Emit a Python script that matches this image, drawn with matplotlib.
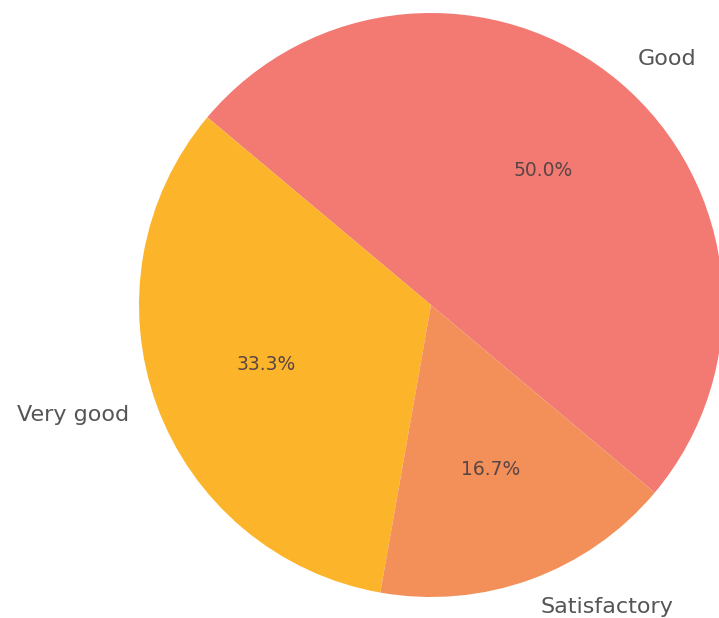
import matplotlib
matplotlib.use('Agg')
import matplotlib.pyplot as plt

labels = ['Good', 'Very good', 'Satisfactory']
shares = [3, 2, 1]
colors = ['#f27a73', '#fcb52b', '#f3905a']

fig = plt.figure(figsize=(7.19, 6.18), dpi=100)
ax = fig.add_axes([0, 0, 1, 1])

wedges, texts, autotexts = ax.pie(shares, labels=labels, colors=colors,
                                  autopct='%1.1f%%', startangle=-40,
                                  labeldistance=1.1, pctdistance=0.6,
                                  textprops={'color': '#555555', 'fontsize': 16})
for t in autotexts:
    t.set_fontsize(13.5)
    t.set_color('#5a4545')

# pie centre at (431, 305) px, radius ~292 px
r = 292.0
cx, cy = 431, 305
ax.set_xlim(-cx / r, (719 - cx) / r)
ax.set_ylim(-(618 - cy) / r, cy / r)
ax.set_aspect('auto')

fig.savefig('out.png', dpi=100, facecolor='white')
